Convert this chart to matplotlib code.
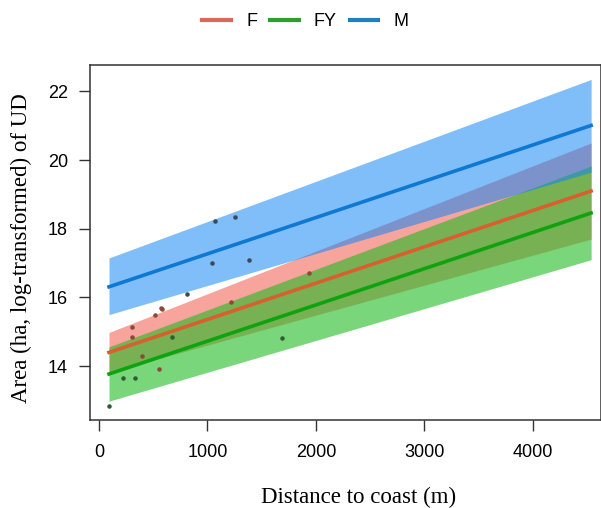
import matplotlib
matplotlib.use('Agg')
import matplotlib.pyplot as plt
from matplotlib.lines import Line2D

# fitted lines and confidence bands (start / end of the distance range)
x_fit = [92, 4540]
f_fit = [14.40, 19.10]
f_low = [13.82, 17.70]
f_high = [14.98, 20.50]
fy_fit = [13.77, 18.46]
fy_low = [12.98, 17.10]
fy_high = [14.56, 19.83]
m_fit = [16.31, 21.01]
m_low = [15.50, 19.65]
m_high = [17.15, 22.35]

# observed points
f_x = [572, 580, 517, 307, 307, 1940, 394, 557, 1218]
f_y = [15.70, 15.65, 15.50, 15.15, 14.86, 16.70, 14.30, 13.93, 15.87]
fy_x = [92, 225, 332, 670, 1685]
fy_y = [12.85, 13.66, 13.64, 14.86, 14.81]
m_x = [1070, 1255, 1040, 1384, 809]
m_y = [18.24, 18.34, 16.99, 17.08, 16.11]

xticks = [0, 1000, 2000, 3000, 4000]
yticks = [14, 16, 18, 20, 22]

fig = plt.figure(figsize=(6.01, 5.08), dpi=100)
ax = fig.add_axes([0.1498, 0.1732, 0.8502, 0.6988])

# bands (red, then green, then blue on top)
ax.fill_between(x_fit, f_low, f_high, color='#f04a3c', alpha=0.5, lw=0)
ax.fill_between(x_fit, fy_low, fy_high, color='#22bb22', alpha=0.6, lw=0)
ax.fill_between(x_fit, m_low, m_high, color='#0a84f5', alpha=0.52, lw=0)

ax.plot(x_fit, f_fit, color='#d9602e', lw=2.6)
ax.plot(x_fit, fy_fit, color='#0fa30f', lw=2.6)
ax.plot(x_fit, m_fit, color='#0f78d2', lw=2.6)

ax.scatter(f_x, f_y, s=5, color='#8a4a3a', zorder=3)
ax.scatter(fy_x, fy_y, s=5, color='#2f5f2f', zorder=3)
ax.scatter(m_x, m_y, s=5, color='#3a4a5a', zorder=3)

ax.set_xlim(-83, 4631)
ax.set_ylim(12.43, 22.77)
ax.set_xticks(xticks)
ax.set_yticks(yticks)
ax.tick_params(direction='out', length=8, width=1, color='#333333',
               labelsize=13)
ax.tick_params(axis='x', pad=9)
ax.tick_params(axis='y', pad=8)
for lab in ax.get_xticklabels() + ax.get_yticklabels():
    lab.set_family('Liberation Sans')
for sp in ax.spines.values():
    sp.set_color('#333333')
    sp.set_linewidth(1.1)

ax.set_xlabel('Distance to coast (m)', family='Liberation Serif', fontsize=16.5, labelpad=19)
ax.set_ylabel('Area (ha, log-transformed) of UD', family='Liberation Serif', fontsize=16.5, labelpad=11)
ax.xaxis.label.set_x(0.526)
ax.yaxis.label.set_y(0.483)

handles = [Line2D([0], [0], color='#d9675a', lw=3),
           Line2D([0], [0], color='#2ca02c', lw=3),
           Line2D([0], [0], color='#1f7fc4', lw=3)]
fig.legend(handles, ['F', 'FY', 'M'], loc='center', bbox_to_anchor=(0.508, 0.958),
           ncol=3, frameon=False, prop={'family': 'Liberation Sans', 'size': 13},
           handlelength=1.6, columnspacing=0.7, handletextpad=0.85)

fig.savefig('out.png', dpi=100)
